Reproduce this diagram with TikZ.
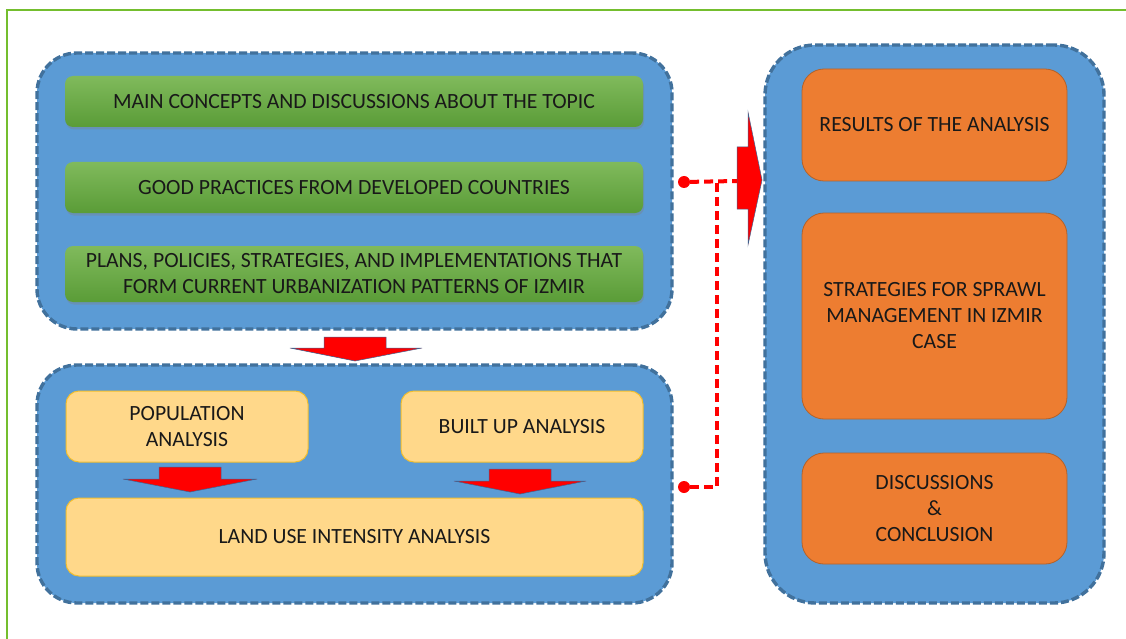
\documentclass[tikz,border=0pt]{standalone}
\usepackage{fontspec}
\setmainfont{Carlito}
\usetikzlibrary{shadows}
\definecolor{panelfill}{HTML}{5B9BD5}
\definecolor{paneldraw}{HTML}{41719C}
\definecolor{greentop}{HTML}{80BA5C}
\definecolor{greenbot}{HTML}{5A9C37}
\definecolor{yelfill}{HTML}{FFD88A}
\definecolor{yeldraw}{HTML}{F2BE2E}
\definecolor{orfill}{HTML}{ED7D31}
\definecolor{ordraw}{HTML}{B3622A}
\definecolor{framegreen}{HTML}{74BE2E}
\definecolor{arrowedge}{HTML}{3F6390}
\tikzset{
  panel/.style={draw=paneldraw, fill=panelfill, line width=3.4pt, dash pattern=on 8pt off 3pt, rounded corners=40pt},
  txt/.style={align=center, font=\fontsize{21.7}{26}\selectfont, text=black!90, inner sep=0pt},
  greenbox/.style={txt, top color=greentop, bottom color=greenbot, rounded corners=8pt, drop shadow={shadow xshift=1pt, shadow yshift=-2.5pt, opacity=0.35}},
  yelbox/.style={txt, draw=yeldraw, fill=yelfill, line width=1pt, rounded corners=13pt},
  orbox/.style={txt, draw=ordraw, fill=orfill, line width=0.8pt, rounded corners=22pt},
  redarrow/.style={fill=red, draw=arrowedge, line width=0.5pt, line join=miter},
  conn/.style={draw=red, line width=4pt, dash pattern=on 9pt off 5pt},
  reddot/.style={circle, fill=red, inner sep=0pt, minimum size=12pt}
}
\begin{document}
\begin{tikzpicture}[x=1pt,y=-1pt]
\useasboundingbox (0,0) rectangle (1126,639);
\fill[white] (0,0) rectangle (1126,639);
% frame
\draw[framegreen, line width=1.5pt] (7,639) -- (7,10) -- (1126,10);

% panels
\node[panel, minimum width=635pt, minimum height=276pt] (p1) at (354.5,191) {};
\node[panel, minimum width=635pt, minimum height=238pt] (p2) at (354.5,484) {};
\node[panel, minimum width=339pt, minimum height=558pt, rounded corners=50pt] (p3) at (934.5,324) {};

% green boxes
\node[greenbox, minimum width=578pt, minimum height=51pt] (g1) at (354,101.5) {MAIN CONCEPTS AND DISCUSSIONS ABOUT THE TOPIC};
\node[greenbox, minimum width=578pt, minimum height=51pt] (g2) at (354,187.5) {GOOD PRACTICES FROM DEVELOPED COUNTRIES};
\node[greenbox, minimum width=578pt, minimum height=56pt] (g3) at (354,274) {PLANS, POLICIES, STRATEGIES, AND IMPLEMENTATIONS THAT\\FORM CURRENT URBANIZATION PATTERNS OF IZMIR};

% yellow boxes
\node[yelbox, minimum width=242pt, minimum height=71pt] (y1) at (187,426.5) {POPULATION\\ANALYSIS};
\node[yelbox, minimum width=242pt, minimum height=71pt] (y2) at (522,426.5) {BUILT UP ANALYSIS};
\node[yelbox, minimum width=577pt, minimum height=78pt] (y3) at (354.5,537) {LAND USE INTENSITY ANALYSIS};

% orange boxes
\node[orbox, minimum width=265pt, minimum height=112pt] (o1) at (934.5,125) {RESULTS OF THE ANALYSIS};
\node[orbox, minimum width=265pt, minimum height=206pt] (o2) at (934.5,316) {STRATEGIES FOR SPRAWL\\MANAGEMENT IN IZMIR\\CASE};
\node[orbox, minimum width=265pt, minimum height=111pt] (o3) at (934.5,508.5) {DISCUSSIONS\\\&\\CONCLUSION};

% big down arrow
\draw[redarrow] (324,337) -- (386,337) -- (386,348) -- (422,348) -- (355,361) -- (290,348) -- (324,348) -- cycle;
% small down arrows
\draw[redarrow] (159,467) -- (221,467) -- (221,479) -- (257,479) -- (190,492) -- (123,479) -- (159,479) -- cycle;
\draw[redarrow] (489,469) -- (551,469) -- (551,481) -- (586,481) -- (520,494) -- (454,481) -- (489,481) -- cycle;
% right arrow
\draw[redarrow] (737,147) -- (748,147) -- (748,112) -- (762,180) -- (748,245) -- (748,209) -- (737,209) -- cycle;

% connector
\coordinate (tail) at (737,181);
\coordinate (j) at (717,181);
\node[reddot] (d1) at (684,182) {};
\node[reddot] (d2) at (684,487) {};
\draw[conn] (d1) -- (tail);
\draw[conn] (d2) -| (j);
\end{tikzpicture}
\end{document}
